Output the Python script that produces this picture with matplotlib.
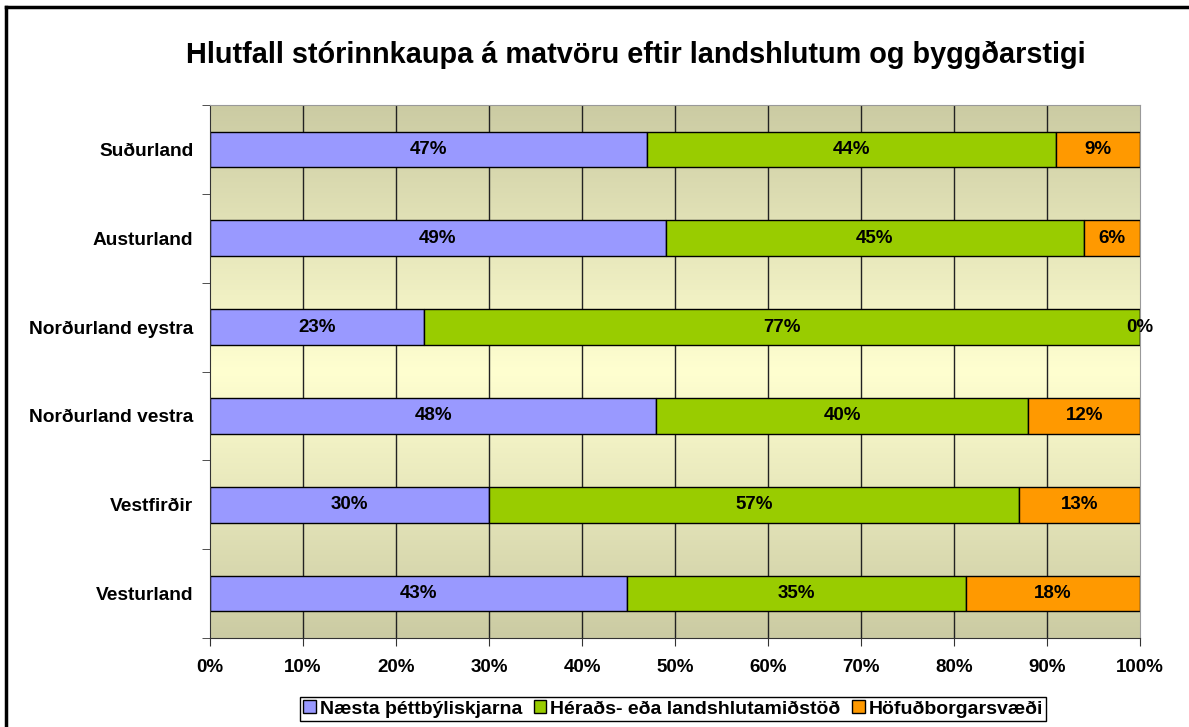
import numpy as np
import matplotlib.pyplot as plt
from matplotlib.colors import LinearSegmentedColormap
from matplotlib.lines import Line2D

plt.rcParams['font.family'] = ['Liberation Sans', 'DejaVu Sans']

# Landshlutar, talið ofan frá
landshlutar = ['Suðurland', 'Austurland', 'Norðurland eystra',
               'Norðurland vestra', 'Vestfirðir', 'Vesturland']
naesta = [47, 49, 23, 48, 30, 43]
heradsmidstod = [44, 45, 77, 40, 57, 35]
hofudborg = [9, 6, 0, 12, 13, 18]

flokkar = ['Næsta þéttbýliskjarna', 'Héraðs- eða landshlutamiðstöð', 'Höfuðborgarsvæði']
litir = ['#9999FF', '#99CC00', '#FF9900']
x_ticks = ['0%', '10%', '20%', '30%', '40%', '50%', '60%', '70%', '80%', '90%', '100%']

gogn = np.array([naesta, heradsmidstod, hofudborg], dtype=float)
hlutfall = gogn / gogn.sum(axis=0) * 100  # 100% staflað

fig = plt.figure(figsize=(11.89, 7.27), dpi=100)
ax = fig.add_axes([210 / 1189, 1 - 638 / 727, 930 / 1189, 533 / 727])

n = len(landshlutar)
y = np.arange(n)[::-1]

# bakgrunnur með litbrigðum (dökkt efst/neðst, ljóst í miðju)
cmap = LinearSegmentedColormap.from_list('bg', ['#CBCBA3', '#FFFFD0', '#CBCBA3'])
grad = np.linspace(0, 1, 256).reshape(-1, 1)
ax.imshow(grad, cmap=cmap, aspect='auto', extent=[0, 100, -0.5, n - 0.5],
          origin='upper', zorder=0)

for xv in range(10, 100, 10):
    ax.axvline(xv, color='#222222', lw=1, zorder=1)

vinstri = np.zeros(n)
for i in range(3):
    ax.barh(y, hlutfall[i], left=vinstri, height=0.4, color=litir[i],
            edgecolor='black', linewidth=1, label=flokkar[i], zorder=2)
    for yy, l, w, v in zip(y, vinstri, hlutfall[i], gogn[i]):
        ax.text(l + w / 2, yy, f'{v:.0f}%', ha='center', va='center',
                fontsize=13.5, fontweight='bold', zorder=3)
    vinstri += hlutfall[i]

ax.set_xlim(0, 100)
ax.set_ylim(-0.5, n - 0.5)
ax.set_xticks(np.arange(0, 101, 10))
ax.set_xticklabels(x_ticks, fontsize=13.5, fontweight='bold')
ax.set_yticks(y)
ax.set_yticklabels(landshlutar, fontsize=13.8, fontweight='bold')
ax.set_yticks(np.arange(-0.5, n, 1), minor=True)
ax.tick_params(axis='y', which='major', length=0, pad=12)
ax.tick_params(axis='y', which='minor', length=6, color='#333333')
ax.tick_params(axis='x', length=6, color='#333333', pad=9)

ax.spines['top'].set_color('#999999')
ax.spines['right'].set_color('#999999')
for s in ['left', 'bottom']:
    ax.spines[s].set_color('#333333')

fig.text(636 / 1189, 1 - 55 / 727,
         'Hlutfall stórinnkaupa á matvöru eftir landshlutum og byggðarstigi',
         ha='center', va='center', fontsize=20.8, fontweight='bold')

leg = fig.legend(loc='center', bbox_to_anchor=(673 / 1189, 1 - 709 / 727), ncol=3,
                 fancybox=False, edgecolor='black', framealpha=1,
                 prop={'weight': 'bold', 'size': 14}, handlelength=0.65,
                 handleheight=0.65, handletextpad=0.2, columnspacing=0.6,
                 borderpad=0.15, borderaxespad=0)
leg.get_frame().set_linewidth(1)

# rammi utan um myndina
fig.add_artist(Line2D([6 / 1189, 6 / 1189], [0, 1 - 7 / 727], color='black', lw=2.5))
fig.add_artist(Line2D([6 / 1189, 1], [1 - 7 / 727, 1 - 7 / 727], color='black', lw=2.5))

fig.savefig('out.png', dpi=100)
